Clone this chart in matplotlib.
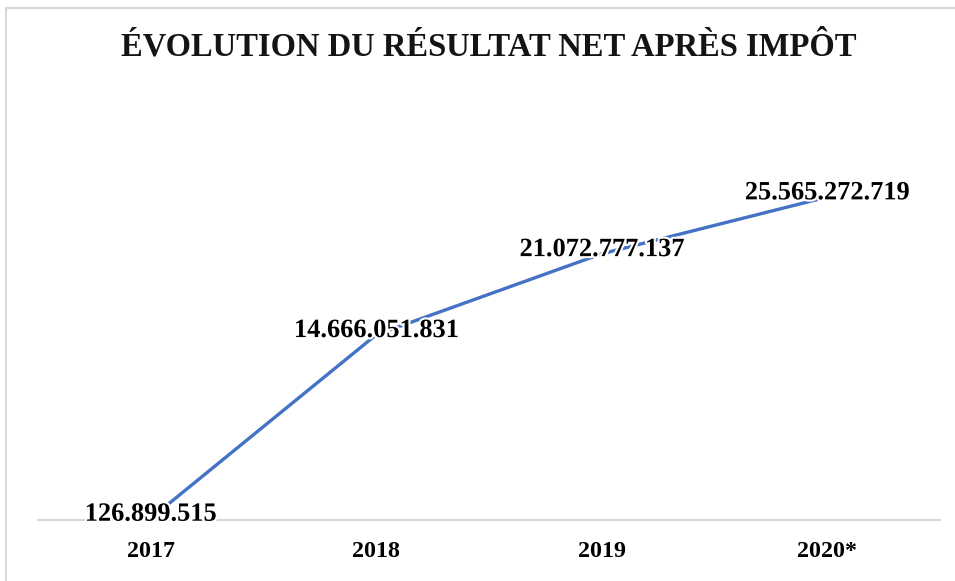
import matplotlib
matplotlib.use("Agg")
import matplotlib.pyplot as plt
import matplotlib.patheffects as pe
from matplotlib.patches import Rectangle

categories = ["2017", "2018", "2019", "2020*"]
values = [126899515, 14666051831, 21072777137, 25565272719]
title = "ÉVOLUTION DU RÉSULTAT NET APRÈS IMPÔT"

def fmt(v):
    return f"{v:,}".replace(",", ".")

W, H = 955, 581
fig = plt.figure(figsize=(W / 100, H / 100), dpi=100)
fig.patch.set_facecolor("white")

# chart border
fig.patches.append(Rectangle((6 / W, -0.05), 1.1, 1 - 8 / H + 0.05, transform=fig.transFigure,
                             fill=False, edgecolor="#d9d9d9", linewidth=1.5))

ax = fig.add_axes([38 / W, 1 - 520 / H, (940 - 38) / W, (520 - 141) / H])
x = list(range(len(categories)))
ax.plot(x, values, color="#4472C4", linewidth=2.4, solid_capstyle="butt", zorder=2)
ax.set_xlim(-0.5, len(categories) - 0.5)
ax.set_ylim(0, 30e9)
for s in ["top", "right", "left"]:
    ax.spines[s].set_visible(False)
ax.spines["bottom"].set_color("#d9d9d9")
ax.spines["bottom"].set_linewidth(1.5)
ax.spines["bottom"].set_zorder(1)
ax.set_yticks([])
ax.set_xticks(x)
ax.set_xticklabels(categories, fontfamily="Liberation Serif", fontweight="bold", fontsize=17.3)
ax.tick_params(axis="x", length=0, pad=15)
ax.patch.set_alpha(0)

for xi, v in zip(x, values):
    ax.annotate(fmt(v), (xi, v), xytext=(0, 3), textcoords="offset points",
                ha="center", va="center", fontfamily="Liberation Serif", fontweight="bold",
                fontsize=19, color="black", zorder=3,
                path_effects=[pe.withStroke(linewidth=3, foreground="white")])

fig.text(489 / W, 1 - 47 / H, title, ha="center", va="center", fontfamily="Liberation Serif",
         fontweight="bold", fontsize=23.5, color="#141414")

fig.savefig("out.png", dpi=100)
